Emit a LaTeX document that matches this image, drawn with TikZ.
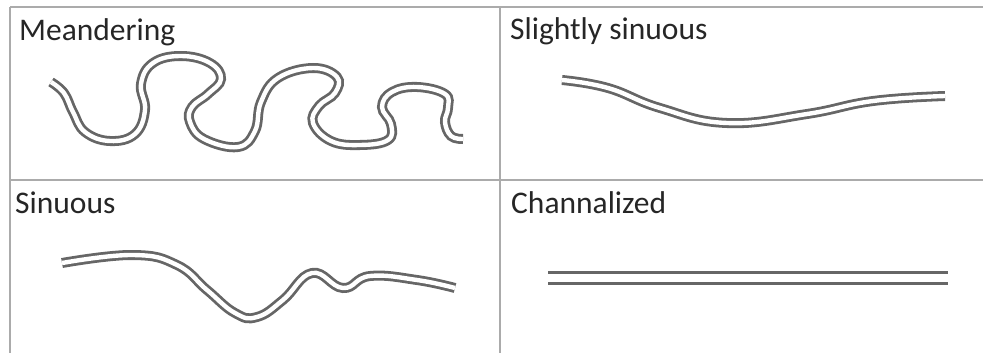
\documentclass[tikz,border=0pt]{standalone}
\usepackage{fontspec}
\setmainfont{Carlito}
\begin{document}
\begin{tikzpicture}[x=1pt,y=-1pt,
  gridline/.style={draw=black!33, line width=2pt},
  label/.style={anchor=base west, inner sep=0pt, text=black!85, font=\fontsize{31.5}{36}\selectfont},
  river/.style={draw=black!60, line width=2.8pt, double=white, double distance=4.4pt},
  canal/.style={draw=black!60, line width=3pt}]
\useasboundingbox (0,0) rectangle (983,353);
% grid
\draw[gridline] (10,7) -- (983,7);
\draw[gridline] (10,7) -- (10,353);
\draw[gridline] (500,7) -- (500,353);
\draw[gridline] (10,180) -- (983,180);
% labels
\node[label] (meander) at (19,41) {Meandering};
\node[label] (slight) at (510,40) {Slightly sinuous};
\node[label] (sinuous) at (15,213) {Sinuous};
\node[label] (canalised) at (511,213) {Channalized};
% meandering
\draw[river] plot[smooth, tension=0.7] coordinates {
 (51,82) (64,93) (73,112) (85,132) (110,141) (135,134) (145,110) (141,84) (153,63)
 (181,56) (210,63) (221,79) (208,94) (192,107) (190,122) (204,139) (238,147)
 (255,131) (261,102) (278,78) (313,68) (337,77) (335,93) (319,106) (313,123)
 (331,141) (360,145) (388,140) (391,124) (382,107) (392,92) (417,87) (445,94)
 (448,108) (445,122) (451,136) (463,139)};
% slightly sinuous
\draw[river] plot[smooth, tension=0.75] coordinates {
 (562,80) (608,88) (660,108) (727,123) (807,114) (873,101) (945,96)};
% sinuous
\draw[river] plot[smooth, tension=0.75] coordinates {
 (62,263) (133,255) (177,265) (207,290) (235,313) (257,317) (283,300)
 (312,273) (343,288) (370,276) (417,280) (455,288)};
% channalized
\draw[canal] (548,272) -- (948,272);
\draw[canal] (548,283) -- (948,283);
\end{tikzpicture}
\end{document}
